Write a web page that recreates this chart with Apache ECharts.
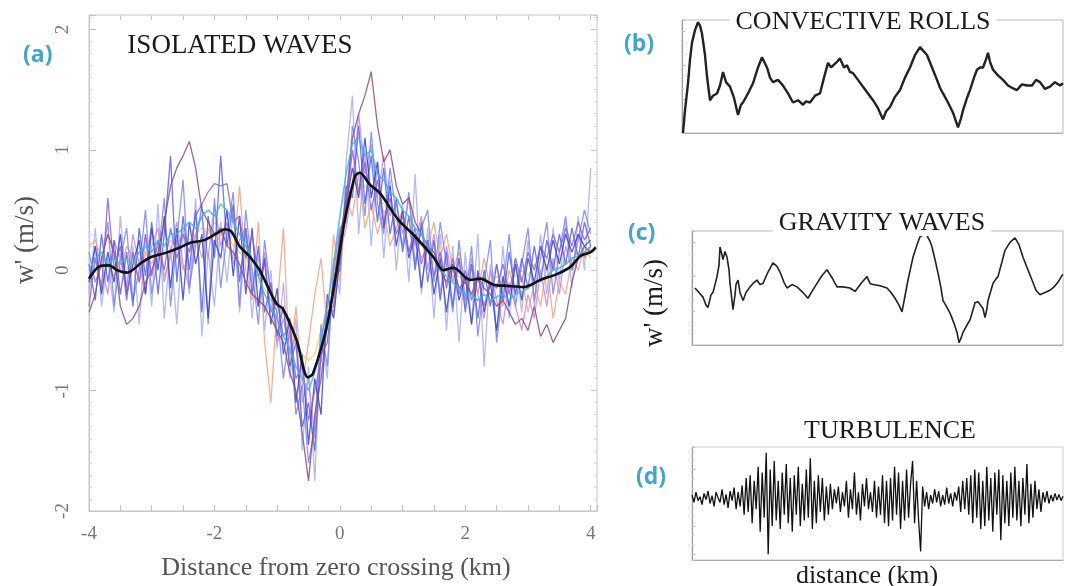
<!DOCTYPE html>
<html>
<head>
<meta charset="utf-8">
<script src="https://cdn.jsdelivr.net/npm/echarts@6/dist/echarts.min.js"></script>
<style>
html,body{margin:0;padding:0;background:#fff;}
#chart{width:1066px;height:586px;}
</style>
</head>
<body>
<div id="chart"></div>
<script>
// ---------- Panel (a): isolated waves ----------
const waveX = [-4.0,-3.9,-3.8,-3.7,-3.6,-3.5,-3.4,-3.3,-3.2,-3.1,-3.0,-2.9,-2.8,-2.7,-2.6,-2.5,-2.4,-2.3,-2.2,-2.1,-2.0,-1.9,-1.8,-1.7,-1.6,-1.5,-1.4,-1.3,-1.2,-1.1,-1.0,-0.9,-0.8,-0.7,-0.6,-0.5,-0.4,-0.3,-0.2,-0.1,0.0,0.1,0.2,0.3,0.4,0.5,0.6,0.7,0.8,0.9,1.0,1.1,1.2,1.3,1.4,1.5,1.6,1.7,1.8,1.9,2.0,2.1,2.2,2.3,2.4,2.5,2.6,2.7,2.8,2.9,3.0,3.1,3.2,3.3,3.4,3.5,3.6,3.7,3.8,3.9,4.0];
const waveRoyal = [0.05,-0.25,0.3,-0.1,0.25,-0.2,0.15,-0.3,0.35,-0.05, 0.4,-0.2,0.3,0.95,-0.1,0.45,0.0,0.5,-0.35,0.45, 0.1,0.95,0.2,0.55,-0.1,0.35,-0.2,0.2,-0.35,-0.1, -0.55,-0.3,-0.8,-0.6,-1.3,-1.1,-1.5,-0.7,-0.6,-0.1, 0.0,0.7,0.6,1.2,0.55,0.95,0.4,0.85,0.3,0.6, 0.15,0.45,0.0,0.4,-0.1,0.25,-0.25,0.15,-0.3,0.1, -0.35,0.05,-0.4,0.0,-0.3,0.05,-0.25,0.15,-0.2,0.1, -0.15,0.2,-0.1,0.25,0.0,0.3,0.05,0.35,0.1,0.4, 0.2];
const waveLavender = [-0.2,0.35,-0.3,0.1,-0.35,0.45,-0.15,0.2,-0.45,0.3, -0.3,0.55,-0.4,0.2,-0.45,0.35,-0.2,0.6,-0.55,0.15, -0.3,0.4,-0.1,0.5,-0.35,0.3,-0.4,0.15,-0.5,0.0, -0.65,-0.1,-0.9,-0.4,-1.5,-0.8,-1.75,-0.5,-0.9,0.1, -0.2,0.9,1.45,0.3,1.0,0.2,0.9,0.1,0.75,0.0, 0.55,-0.1,0.8,-0.2,0.35,-0.4,0.3,-0.5,0.2,-0.6, 0.15,-0.45,0.3,-0.8,0.05,-0.55,0.2,-0.4,0.1,-0.35, 0.25,-0.3,0.3,-0.2,0.35,-0.1,0.4,-0.15,0.45,0.0, 0.85];
const wavePurple = [-0.3,0.1,-0.15,0.6,0.0,0.2,-0.25,0.15,-0.1,0.3, -0.05,0.25,0.0,0.35,0.1,0.3,0.15,0.45,0.55,0.65, 0.72,0.7,0.72,0.4,0.45,0.1,0.3,-0.05,0.05,-0.35, -0.25,-0.55,-0.45,-0.9,-0.8,-1.25,-1.0,-0.75,-0.35,-0.3, 0.3,0.5,1.0,0.65,0.9,0.5,0.75,0.4,0.6,0.3, 0.45,0.15,0.35,0.05,0.25,-0.05,0.15,-0.15,0.1,-0.2, 0.0,-0.25,-0.05,-0.3,-0.1,-0.15,0.05,-0.2,0.1,-0.1, 0.15,0.0,0.2,0.1,0.3,0.15,0.35,0.2,0.4,0.25, 0.35];
const wavePlum = [-0.35,-0.2,0.1,0.3,0.15,-0.3,-0.45,-0.4,-0.3,-0.1, 0.0,0.15,0.4,0.7,0.85,0.95,1.07,0.85,0.5,0.4, 0.3,0.35,0.2,0.15,0.05,-0.1,-0.2,-0.25,-0.3,-0.4, -0.5,-0.6,-0.85,-1.0,-1.35,-1.75,-1.2,-0.9,-0.45,-0.1, 0.25,0.6,1.1,1.3,1.45,1.65,1.2,0.9,1.0,0.7, 0.55,0.6,0.4,0.3,0.2,0.15,0.0,-0.1,0.05,-0.15, -0.1,-0.2,-0.05,-0.15,-0.2,-0.3,-0.25,-0.35,-0.45,-0.4, -0.5,-0.3,-0.55,-0.45,-0.6,-0.5,-0.4,-0.1,0.1,0.2, 0.15];
const waveCyan = [0.0,0.1,0.15,0.05,0.1,0.05,0.1,0.05,0.15,0.2, 0.15,0.25,0.2,0.3,0.3,0.35,0.4,0.35,0.45,0.5, 0.45,0.55,0.5,0.4,0.3,0.2,0.1,-0.05,-0.2,-0.3, -0.4,-0.55,-0.65,-0.8,-0.9,-1.0,-0.85,-0.6,-0.3,0.05, 0.45,0.8,1.05,1.1,0.95,1.0,0.8,0.75,0.65,0.6, 0.5,0.45,0.35,0.3,0.2,0.1,0.0,-0.05,-0.1,-0.15, -0.2,-0.2,-0.25,-0.2,-0.25,-0.22,-0.2,-0.25,-0.2,-0.18, -0.15,-0.1,-0.08,-0.05,0.0,0.02,0.05,0.1,0.12,0.15, 0.2];
const waveSalmon = [0.2,0.25,0.1,0.3,0.15,0.0,0.2,0.1,-0.1,0.15, 0.05,0.2,-0.05,0.1,0.25,0.0,0.15,0.3,0.1,0.35, 0.2,0.3,0.25,0.1,0.7,0.0,-0.25,0.4,-0.6,-1.1, -0.3,0.35,-0.8,-0.3,-0.95,-0.6,-0.2,0.1,-0.5,0.3, -0.1,0.6,0.45,0.8,0.35,0.55,0.3,0.5,0.2,0.35, 0.5,0.15,0.3,0.1,0.2,0.4,0.1,0.3,0.0,0.15, -0.1,0.05,-0.2,0.1,-0.15,0.05,-0.3,0.0,-0.2,-0.05, -0.35,-0.1,-0.3,0.05,-0.4,-0.1,-0.2,0.1,0.0,0.2, 0.1];
const waveYellow = [0.1,0.0,-0.1,0.05,-0.05,0.1,0.0,0.1,0.05,0.15, 0.1,0.2,0.15,0.25,0.2,0.3,0.25,0.3,0.35,0.3, 0.4,0.35,0.3,0.2,0.15,0.1,0.0,-0.1,-0.15,-0.25, -0.35,-0.4,-0.5,-0.6,-0.7,-0.75,-0.7,-0.5,-0.3,0.0, 0.3,0.55,0.7,0.75,0.7,0.65,0.6,0.55,0.5,0.4, 0.35,0.3,0.25,0.2,0.15,0.1,0.05,0.0,-0.05,-0.05, -0.1,-0.05,-0.1,-0.05,-0.1,-0.05,-0.1,0.0,-0.05,0.0, -0.05,0.05,0.0,0.1,0.05,0.1,0.05,0.1,0.15,0.1, 0.15];
const waveNavy = [-0.1,0.2,-0.2,0.15,-0.1,0.3,-0.2,0.05,0.25,-0.2, 0.35,0.0,0.45,-0.15,0.35,-0.25,0.4,0.05,0.3,-0.4, 0.25,0.1,0.5,-0.05,0.45,-0.2,0.35,-0.3,0.1,-0.45, -0.15,-0.7,-0.4,-1.1,-0.7,-1.45,-0.9,-1.2,-0.2,-0.4, 0.1,0.55,0.85,0.6,1.1,0.6,0.9,0.35,0.7,0.2, 0.5,0.1,0.3,-0.15,0.25,-0.2,0.1,-0.35,0.05,-0.25, -0.05,-0.45,0.0,-0.35,-0.1,-0.5,-0.05,-0.3,0.05,-0.25, 0.1,-0.1,0.2,0.0,0.25,0.05,0.3,0.15,0.3,0.2, 0.25];
const wavePeriwinkle = [0.15,-0.1,0.05,0.4,-0.3,0.1,0.35,-0.25,0.0,0.5, -0.2,0.1,0.6,-0.3,0.25,0.75,-0.15,0.2,0.55,-0.45, 0.6,-0.15,0.3,0.65,-0.3,0.5,0.0,-0.45,0.25,-0.2, -0.35,-0.9,-0.5,-1.2,-0.95,-1.6,-1.3,-0.45,-0.8,0.0, 0.35,0.4,1.2,0.9,0.45,1.15,0.55,0.3,0.85,0.45, 0.2,0.65,0.05,0.35,0.5,-0.1,0.4,0.05,-0.35,0.25, -0.25,0.2,-0.55,-0.1,0.25,-0.6,-0.15,0.3,-0.3,0.05, 0.35,-0.25,0.1,0.4,-0.2,0.15,0.45,0.0,0.25,0.5, 0.3];
const waveOrchid = [-0.15,0.2,0.05,-0.2,0.25,0.1,-0.15,0.3,0.05,-0.2, 0.2,0.35,-0.1,0.15,0.4,0.05,-0.15,0.3,0.45,0.1, 0.55,0.2,0.4,0.05,0.25,0.35,-0.1,-0.3,0.15,-0.2, -0.6,-0.4,-0.7,-0.55,-1.1,-0.9,-1.4,-0.6,-0.25,-0.35, 0.15,0.35,0.7,1.3,0.8,1.05,0.6,0.95,0.45,0.55, 0.3,0.6,0.2,0.45,0.0,0.3,-0.2,0.2,-0.1,0.1, -0.3,0.1,-0.2,-0.4,0.0,-0.25,-0.45,-0.1,-0.3,-0.5, -0.2,-0.4,0.0,-0.3,0.1,-0.2,0.2,0.0,0.3,0.1, 0.2];
const meanX = [-4.0,-3.84,-3.68,-3.55,-3.39,-3.17,-3.01,-2.8,-2.59,-2.37,-2.16,-1.95,-1.84,-1.73,-1.6,-1.45,-1.28,-1.01,-0.91,-0.69,-0.51,-0.43,-0.21,-0.05,0.0,0.08,0.24,0.32,0.48,0.64,0.93,1.2,1.49,1.65,1.81,2.08,2.24,2.45,2.67,2.93,3.2,3.47,3.68,3.84,4.0,4.08];
const meanY = [-0.07,0.03,0.04,0.0,-0.02,0.06,0.11,0.14,0.18,0.23,0.25,0.31,0.34,0.32,0.2,0.12,0.0,-0.28,-0.32,-0.58,-0.89,-0.86,-0.47,0.0,0.17,0.42,0.78,0.81,0.71,0.64,0.42,0.28,0.11,0.0,0.02,-0.08,-0.07,-0.12,-0.13,-0.14,-0.08,-0.03,0.03,0.12,0.15,0.19];
const xTickLabels = ['-4','-2','0','2','4'];
const yTickLabels = ['-2','-1','0','1','2'];

// ---------- Panel (b): convective rolls ----------
const rollsX = [0.1,0.3,0.6,0.8,1.0,1.3,1.6,1.8,2.0,2.3,2.5,2.8,3.1,3.5,3.8,4.1,4.4,4.8,5.2,5.6,5.9,6.1,6.6,7.1,7.6,8.0,8.5,8.8,9.1,9.6,10.1,10.6,11.1,11.6,12.1,12.4,12.8,13.3,13.8,14.2,14.6,14.9,15.1,15.5,15.8,16.2,16.5,16.8,17.1,17.6,18.1,18.6,19.1,19.6,20.1,20.4,20.8,21.3,21.8,22.3,22.8,23.3,23.8,24.2,24.5,25.0,25.5,25.8,26.1,26.6,27.1,27.6,27.9,28.1,28.5,28.8,29.2,29.5,29.8,30.1,30.4,30.6,30.8,31.1,31.6,32.1,32.6,33.0,33.5,34.0,34.5,35.0,35.4,35.8,36.3,36.8,37.3,37.8,38.1];
const rollsY = [0.0,0.2,0.44,0.65,0.8,0.91,0.98,0.95,0.88,0.69,0.5,0.29,0.33,0.35,0.42,0.54,0.45,0.41,0.31,0.16,0.25,0.27,0.35,0.44,0.58,0.67,0.58,0.49,0.45,0.47,0.42,0.35,0.27,0.29,0.25,0.28,0.27,0.33,0.35,0.49,0.62,0.58,0.58,0.63,0.66,0.58,0.6,0.54,0.53,0.47,0.41,0.35,0.29,0.22,0.12,0.19,0.23,0.32,0.38,0.49,0.58,0.69,0.76,0.72,0.69,0.58,0.47,0.4,0.35,0.27,0.18,0.05,0.13,0.2,0.31,0.38,0.49,0.56,0.58,0.58,0.65,0.71,0.63,0.56,0.51,0.47,0.42,0.4,0.38,0.43,0.42,0.42,0.47,0.45,0.39,0.41,0.45,0.42,0.44];

// ---------- Panel (c): gravity waves ----------
const gravX = [0.3,0.7,1.1,1.4,1.6,1.9,2.1,2.3,2.5,2.7,2.8,3.0,3.1,3.3,3.5,3.7,3.8,4.0,4.1,4.3,4.4,4.6,4.8,5.1,5.4,5.8,6.1,6.5,6.8,7.1,7.6,8.1,8.5,8.8,9.2,9.5,10.0,10.5,11.1,11.6,12.0,12.5,13.0,13.5,14.0,14.5,15.1,15.8,16.3,16.5,17.0,17.5,17.8,18.1,18.8,19.5,19.9,20.3,20.7,21.0,21.3,21.6,21.9,22.1,22.5,22.8,23.2,23.5,23.8,24.0,24.3,24.6,24.9,25.1,25.5,25.8,26.2,26.5,26.7,26.9,27.1,27.4,27.8,28.1,28.3,28.6,28.8,29.1,29.3,29.5,29.6,29.9,30.1,30.4,30.6,31.0,31.3,31.8,32.3,32.7,33.1,33.5,34.0,34.4,34.8,35.3,35.8,36.2,36.6,37.0,37.1];
const gravY = [0.5,0.46,0.42,0.35,0.33,0.44,0.46,0.53,0.6,0.7,0.86,0.79,0.75,0.82,0.77,0.66,0.54,0.39,0.31,0.44,0.53,0.57,0.46,0.39,0.46,0.51,0.54,0.57,0.53,0.54,0.64,0.72,0.69,0.64,0.55,0.5,0.53,0.51,0.46,0.41,0.47,0.54,0.61,0.66,0.59,0.51,0.51,0.5,0.47,0.48,0.55,0.6,0.54,0.53,0.52,0.5,0.46,0.41,0.35,0.29,0.43,0.57,0.69,0.77,0.88,0.95,0.97,0.96,0.91,0.86,0.75,0.63,0.5,0.39,0.33,0.28,0.19,0.11,0.02,0.06,0.11,0.16,0.22,0.31,0.37,0.38,0.39,0.32,0.24,0.32,0.39,0.48,0.54,0.58,0.6,0.73,0.83,0.9,0.94,0.88,0.77,0.68,0.57,0.48,0.44,0.46,0.48,0.51,0.55,0.61,0.62];

// ---------- Panel (d): turbulence ----------
const turb = [0.05,-0.08,0.1,-0.05,0.02,-0.12,0.08,-0.03,0.12,-0.1,
 0.04,-0.15,0.1,0.0,-0.08,0.15,-0.12,0.06,-0.18,0.12,
 -0.05,0.18,-0.2,0.1,-0.15,0.22,-0.3,0.35,-0.25,0.4,
 -0.45,0.3,-0.2,0.55,-0.6,0.45,-0.35,0.8,-1.0,0.5,
 -0.5,0.65,-0.4,0.3,-0.55,0.45,-0.3,0.6,-0.45,0.35,
 -0.6,0.4,-0.3,0.55,-0.5,0.25,-0.4,0.5,-0.35,0.7,
 -0.55,0.3,-0.45,0.4,-0.25,0.35,-0.4,0.2,-0.3,0.25,
 -0.2,0.15,-0.1,0.2,-0.25,0.1,-0.15,0.3,-0.35,0.15,
 -0.2,0.45,-0.3,0.1,-0.4,0.25,-0.15,0.35,-0.2,0.1,
 -0.25,0.3,-0.35,0.2,-0.3,0.4,-0.45,0.3,-0.5,0.35,
 -0.4,0.55,-0.3,0.45,-0.55,0.3,-0.4,0.5,-0.35,0.25,
 0.65,-0.45,0.3,-0.4,-0.95,0.2,-0.15,0.1,-0.2,0.05,
 -0.1,0.15,-0.08,0.12,-0.15,0.05,-0.12,0.18,-0.1,0.08,
 -0.15,0.1,-0.05,0.2,-0.25,0.3,-0.2,0.35,-0.3,0.4,
 -0.45,0.5,-0.35,0.45,-0.55,0.3,-0.5,0.55,-0.4,0.35,
 -0.6,0.45,-0.3,0.5,-0.75,0.4,-0.45,0.3,-0.5,0.45,
 -0.35,0.55,-0.4,0.3,-0.5,0.35,-0.3,0.6,-0.45,0.25,
 -0.35,0.3,-0.2,0.15,-0.25,0.1,-0.08,0.12,-0.1,0.05,
 -0.06,0.08,-0.04,0.06,-0.05,0.03];

const chart = echarts.init(document.getElementById('chart'), null, {renderer: 'canvas'});
const serif = '"Liberation Serif", "DejaVu Serif", serif';
const boxGray = '#c6c6cc';
const pair = (xs, ys) => xs.map((x, i) => [x, ys[i]]);

function waveSeries(name, data, color, width) {
  return {
    name: name, type: 'line', xAxisIndex: 0, yAxisIndex: 0,
    data: pair(waveX, data), showSymbol: false, symbol: 'none',
    lineStyle: {color: color, width: width || 1.3, opacity: 0.85},
    z: 3
  };
}
function intLabel(list) {
  return function (v) {
    const s = String(Math.round(v));
    return (Math.abs(v - Math.round(v)) < 1e-6 && list.indexOf(s) >= 0) ? s : '';
  };
}
function smallBoxAxes(gridIndex, xmin, xmax, ymin, ymax) {
  return {
    x: {type: 'value', gridIndex: gridIndex, min: xmin, max: xmax,
        axisLine: {show: true, onZero: false, lineStyle: {color: '#aaa'}}, axisTick: {show: false},
        axisLabel: {show: false}, splitLine: {show: false}},
    y: {type: 'value', gridIndex: gridIndex, min: ymin, max: ymax, splitNumber: 4,
        axisLine: {show: true, onZero: false, lineStyle: {color: '#999'}},
        axisTick: {show: true, inside: true, length: 3, lineStyle: {color: '#bbb'}},
        minorTick: {show: true, splitNumber: 3, length: 2, lineStyle: {color: '#ccc'}},
        axisLabel: {show: false}, splitLine: {show: false}}
  };
}
const bAx = smallBoxAxes(1, 0, 38.1, 0, 1);
const cAx = smallBoxAxes(2, 0, 37.1, 0, 1);
const dAx = smallBoxAxes(3, 0, 185, -1.1, 0.9);

const option = {
  animation: false,
  backgroundColor: '#ffffff',
  grid: [
    {left: 89, top: 15, width: 508, height: 496, show: true, borderColor: boxGray, borderWidth: 1},
    {left: 682, top: 20, width: 381, height: 113, show: true, borderColor: '#bbb', borderWidth: 1},
    {left: 692, top: 231, width: 371, height: 114, show: true, borderColor: '#bbb', borderWidth: 1},
    {left: 692, top: 447, width: 371, height: 113, show: true, borderColor: '#ccc', borderWidth: 1}
  ],
  xAxis: [
    {type: 'value', gridIndex: 0, min: -4, max: 4.1, interval: 0.5,
     axisLine: {show: true, onZero: false, lineStyle: {color: boxGray}},
     axisTick: {show: true, inside: true, length: 6, lineStyle: {color: '#c0c0c8'}},
     axisLabel: {formatter: intLabel(xTickLabels), color: '#777', fontFamily: serif, fontSize: 19, margin: 14},
     splitLine: {show: false},
     name: 'Distance from zero crossing (km)', nameLocation: 'middle', nameGap: 44,
     nameTextStyle: {fontFamily: serif, fontSize: 26, color: '#555', padding: [0, 14, 0, 0]}},
    {type: 'value', gridIndex: 0, min: -4, max: 4.1, interval: 0.5, position: 'top',
     axisLine: {show: false, onZero: false}, axisTick: {show: true, inside: true, length: 5, lineStyle: {color: '#c8c8d0'}},
     axisLabel: {show: false}, splitLine: {show: false}},
    bAx.x, cAx.x, dAx.x
  ],
  yAxis: [
    {type: 'value', gridIndex: 0, min: -2, max: 2.12, interval: 1,
     axisLine: {show: true, onZero: false, lineStyle: {color: boxGray}},
     axisTick: {show: true, inside: true, length: 7, lineStyle: {color: '#c0c0c8'}},
     minorTick: {show: true, splitNumber: 10, length: 3, lineStyle: {color: '#d4d4da'}},
     axisLabel: {formatter: intLabel(yTickLabels), rotate: 90, color: '#777', fontFamily: serif, fontSize: 19, margin: 16},
     splitLine: {show: false},
     name: "w' (m/s)", nameLocation: 'middle', nameGap: 50,
     nameTextStyle: {fontFamily: serif, fontSize: 27, color: '#555', padding: [0, 0, 0, 46]}},
    {type: 'value', gridIndex: 0, min: -2, max: 2.12, interval: 1, position: 'right',
     axisLine: {show: false, onZero: false}, axisTick: {show: true, inside: true, length: 6, lineStyle: {color: '#c8c8d0'}},
     minorTick: {show: true, splitNumber: 10, length: 3, lineStyle: {color: '#d8d8de'}},
     axisLabel: {show: false}, splitLine: {show: false}},
    bAx.y, cAx.y, dAx.y
  ],
  graphic: [
    {type: 'text', left: 23, top: 44, style: {text: '(a)', font: 'bold 23px "Open Sans", sans-serif', fill: '#43a6c6'}},
    {type: 'text', left: 624, top: 33, style: {text: '(b)', font: 'bold 23px "Open Sans", sans-serif', fill: '#43a6c6'}},
    {type: 'text', left: 628, top: 222, style: {text: '(c)', font: 'bold 23px "Open Sans", sans-serif', fill: '#43a6c6'}},
    {type: 'text', left: 636, top: 466, style: {text: '(d)', font: 'bold 23px "Open Sans", sans-serif', fill: '#43a6c6'}},
    {type: 'text', x: 240, y: 46, style: {text: 'ISOLATED WAVES', font: '27px ' + serif, fill: '#1a1a1a', align: 'center', verticalAlign: 'middle'}},
    {type: 'text', x: 863, y: 22, z: 10, style: {text: 'CONVECTIVE ROLLS', font: '26px ' + serif, fill: '#1a1a1a', align: 'center', verticalAlign: 'middle', backgroundColor: '#fff', padding: [0, 6]}},
    {type: 'text', x: 882, y: 223, z: 10, style: {text: 'GRAVITY WAVES', font: '26px ' + serif, fill: '#1a1a1a', align: 'center', verticalAlign: 'middle', backgroundColor: '#fff', padding: [0, 6]}},
    {type: 'text', x: 890, y: 431, style: {text: 'TURBULENCE', font: '26px ' + serif, fill: '#1a1a1a', align: 'center', verticalAlign: 'middle'}},
    {type: 'text', x: 655, y: 303, rotation: Math.PI / 2, style: {text: "w' (m/s)", font: '27px ' + serif, fill: '#1a1a1a', align: 'center', verticalAlign: 'middle'}},
    {type: 'text', x: 867, y: 576, style: {text: 'distance (km)', font: '26px ' + serif, fill: '#1a1a1a', align: 'center', verticalAlign: 'middle'}}
  ],
  series: [
    waveSeries('lavender', waveLavender, '#a7aef2', 1.3),
    waveSeries('salmon', waveSalmon, '#f3a384', 1.3),
    waveSeries('yellow', waveYellow, '#e2d962', 1.3),
    waveSeries('orchid', waveOrchid, '#c48ad6', 1.3),
    waveSeries('periwinkle', wavePeriwinkle, '#7b86ee', 1.3),
    waveSeries('royal', waveRoyal, '#5565e3', 1.3),
    waveSeries('navy', waveNavy, '#3a42c4', 1.3),
    waveSeries('purple', wavePurple, '#8a62d2', 1.3),
    waveSeries('plum', wavePlum, '#8a4a82', 1.3),
    waveSeries('cyan', waveCyan, '#3fb4e6', 1.6),
    {name: 'mean', type: 'line', xAxisIndex: 0, yAxisIndex: 0, data: pair(meanX, meanY),
     showSymbol: false, symbol: 'none', smooth: 0.3, lineStyle: {color: '#111', width: 2.6}, z: 5},
    {name: 'rolls', type: 'line', xAxisIndex: 2, yAxisIndex: 2, data: pair(rollsX, rollsY),
     showSymbol: false, symbol: 'none', lineStyle: {color: '#222', width: 2.4}},
    {name: 'gravity', type: 'line', xAxisIndex: 3, yAxisIndex: 3, data: pair(gravX, gravY),
     showSymbol: false, symbol: 'none', lineStyle: {color: '#222', width: 1.6}},
    {name: 'turbulence', type: 'line', xAxisIndex: 4, yAxisIndex: 4, data: turb.map((v, i) => [i, v]),
     showSymbol: false, symbol: 'none', lineStyle: {color: '#111', width: 1.3}}
  ]
};
chart.setOption(option);
</script>
</body>
</html>
